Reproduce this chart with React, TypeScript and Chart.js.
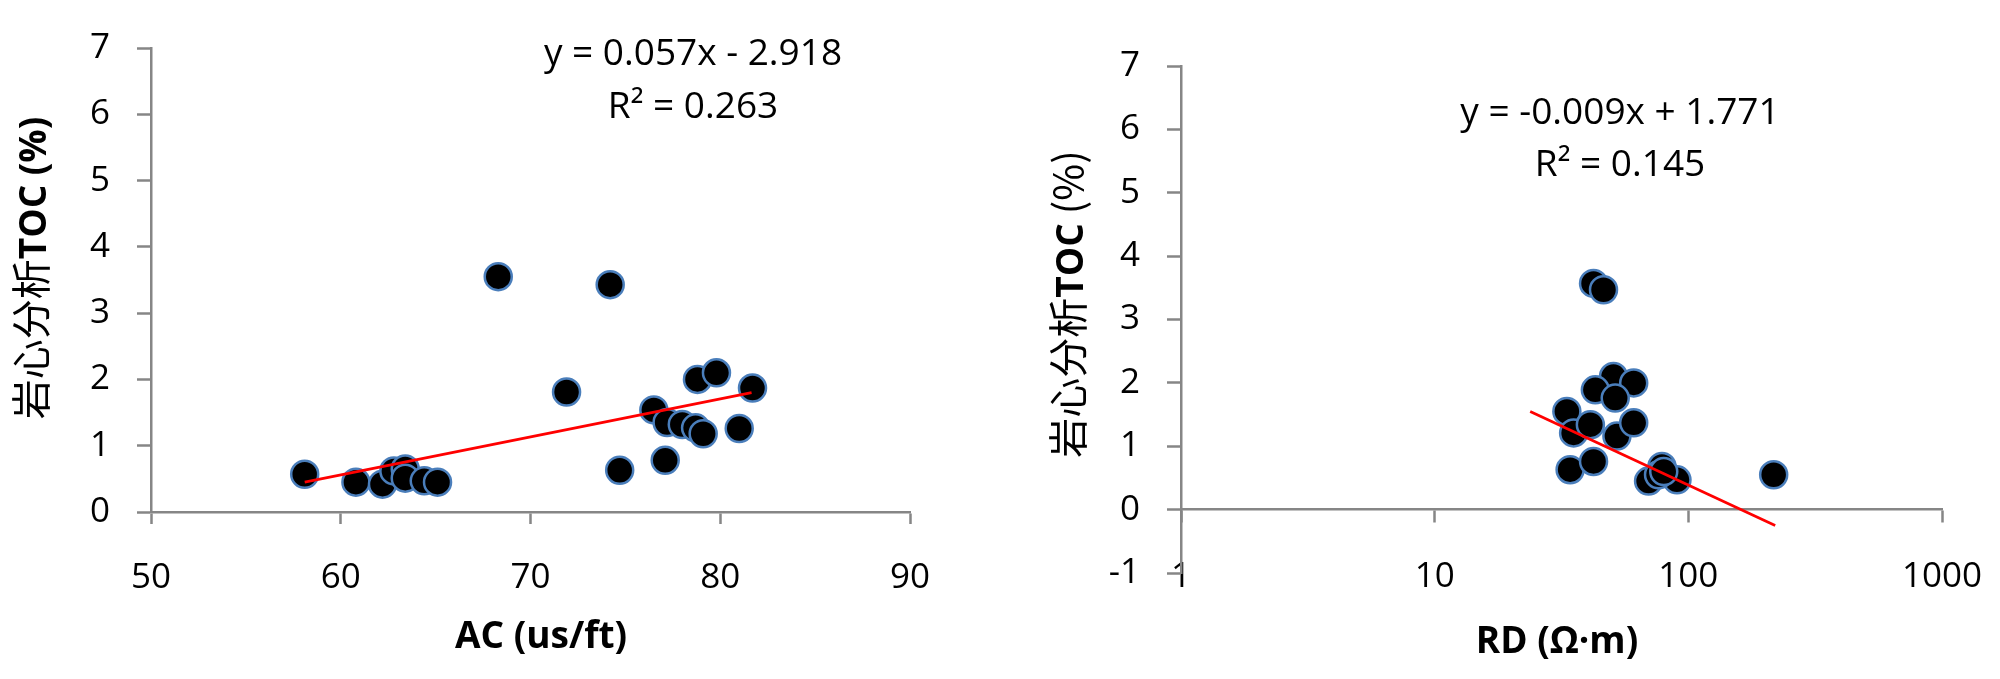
import React, { useEffect, useRef } from "react";
import { Chart, registerables } from "chart.js";

Chart.register(...registerables);

// ---------- data ----------
const acValues = [58.1, 60.8, 62.2, 62.8, 63.4, 63.4, 64.4, 65.1, 68.3, 74.2, 71.9, 74.7, 76.5, 77.2, 78.0, 78.7, 79.1, 78.8, 79.8, 81.7, 81.0, 77.1];
const acToc = [0.57, 0.45, 0.42, 0.62, 0.65, 0.51, 0.47, 0.45, 3.55, 3.43, 1.81, 0.63, 1.54, 1.35, 1.32, 1.27, 1.18, 2.0, 2.1, 1.87, 1.26, 0.78];
const acTrendX = [58.1, 81.65];
const acTrendY = [0.45, 1.8];
const acXTicks = [50, 60, 70, 80, 90];
const acYTicks = [0, 1, 2, 3, 4, 5, 6, 7];
const acEquation = ["y = 0.057x - 2.918", "R\u00B2 = 0.263"];

const rdValues = [42.3, 46.3, 50.7, 60.9, 43.0, 51.5, 33.2, 35.3, 41.1, 52.3, 60.9, 34.2, 42.3, 78.7, 69.7, 90.2, 76.3, 80.0, 217];
const rdToc = [3.57, 3.47, 2.1, 2.0, 1.89, 1.76, 1.55, 1.21, 1.34, 1.16, 1.37, 0.63, 0.76, 0.68, 0.45, 0.47, 0.55, 0.6, 0.55];
const rdTrendX = [23.8, 220];
const rdTrendY = [1.55, -0.25];
const rdXTicks = [1, 10, 100, 1000];
const rdYTicks = [-1, 0, 1, 2, 3, 4, 5, 6, 7];
const rdEquation = ["y = -0.009x + 1.771", "R\u00B2 = 0.145"];

const acXTitle = "AC (us/ft)";
const rdXTitle = "RD (\u03A9\u00B7m)";
const acYTitle = [
  { text: "岩心分析", kind: "cjk" },
  { text: "TOC (%)", kind: "bold" },
];
const rdYTitle = [
  { text: "岩心分析", kind: "cjk" },
  { text: "TOC", kind: "bold" },
  { text: " (%)", kind: "cjk" },
];

// ---------- styles ----------
const LATIN = "'Open Sans', 'Noto Sans CJK SC', sans-serif";
const CJK = "'Noto Sans CJK SC', 'Open Sans', sans-serif";
const GREY = "#868686";
const TICK_FONT = { family: LATIN, size: 35 };
const FONTS: Record<string, string> = {
  cjk: `40px ${CJK}`,
  bold: `bold 37px ${LATIN}`,
};

type Part = { text: string; kind: string };

function textPlugin(o: {
  eq: string[];
  eqX: number;
  eqY: number[];
  xTitle: string;
  xTitleX: number;
  xTitleY: number;
  yTitle: Part[];
  yTitleX: number;
  yTitleY: number;
}) {
  return {
    id: "annotText",
    afterDraw(chart: any) {
      const ctx = chart.ctx as CanvasRenderingContext2D;
      ctx.save();
      ctx.fillStyle = "#000";
      ctx.textAlign = "center";
      ctx.textBaseline = "middle";
      ctx.font = `37px ${LATIN}`;
      o.eq.forEach((t, i) => ctx.fillText(t, o.eqX, o.eqY[i]));
      ctx.font = `bold 37px ${LATIN}`;
      ctx.fillText(o.xTitle, o.xTitleX, o.xTitleY);
      ctx.translate(o.yTitleX, o.yTitleY);
      ctx.rotate(-Math.PI / 2);
      ctx.textAlign = "left";
      ctx.textBaseline = "alphabetic";
      const widths = o.yTitle.map((p) => {
        ctx.font = FONTS[p.kind];
        return ctx.measureText(p.text).width;
      });
      const total = widths.reduce((a, b) => a + b, 0);
      let x = -total / 2;
      o.yTitle.forEach((p, i) => {
        ctx.font = FONTS[p.kind];
        ctx.fillText(p.text, x, 13);
        x += widths[i];
      });
      ctx.restore();
    },
  };
}

const axisGrid = (len: number) => ({
  display: true,
  drawOnChartArea: false,
  drawTicks: true,
  tickLength: len,
  tickColor: GREY,
  tickWidth: 2.5,
  color: GREY,
});
const axisBorder = { display: true, color: GREY, width: 2.5 };

const scatterSet = (xs: number[], ys: number[]) => ({
  type: "scatter",
  data: xs.map((x, i) => ({ x, y: ys[i] })),
  backgroundColor: "#000000",
  borderColor: "#4a7ebb",
  borderWidth: 2.5,
  pointRadius: 13.5,
  pointHoverRadius: 13.5,
  order: 1,
});
const trendSet = (xs: number[], ys: number[]) => ({
  type: "line",
  data: xs.map((x, i) => ({ x, y: ys[i] })),
  borderColor: "#ff0000",
  borderWidth: 2.75,
  pointRadius: 0,
  fill: false,
  showLine: true,
  order: 0,
});

function leftConfig(): any {
  return {
    type: "scatter",
    data: { datasets: [trendSet(acTrendX, acTrendY), scatterSet(acValues, acToc)] },
    options: {
      animation: false,
      responsive: false,
      maintainAspectRatio: false,
      layout: { padding: { top: 26, right: 90, left: 0, bottom: 0 } },
      plugins: { legend: { display: false }, tooltip: { enabled: false }, title: { display: false } },
      scales: {
        x: {
          type: "linear",
          position: "bottom",
          min: 50,
          max: 90,
          afterBuildTicks: (s: any) => {
            s.ticks = acXTicks.map((v) => ({ value: v }));
          },
          afterFit: (s: any) => {
            s.height = 167;
          },
          grid: axisGrid(12),
          border: axisBorder,
          ticks: { font: TICK_FONT, color: "#000", padding: 33, maxRotation: 0, autoSkip: false },
        },
        y: {
          type: "linear",
          position: "left",
          min: 0,
          max: 7,
          afterBuildTicks: (s: any) => {
            s.ticks = acYTicks.map((v) => ({ value: v }));
          },
          afterFit: (s: any) => {
            s.width = 151;
          },
          grid: axisGrid(14),
          border: axisBorder,
          ticks: { font: TICK_FONT, color: "#000", padding: 27, autoSkip: false },
        },
      },
    },
    plugins: [
      textPlugin({
        eq: acEquation,
        eqX: 693,
        eqY: [54, 107],
        xTitle: acXTitle,
        xTitleX: 541,
        xTitleY: 637,
        yTitle: acYTitle,
        yTitleX: 33,
        yTitleY: 268,
      }),
    ],
  };
}

function rightConfig(): any {
  const logTicks = (s: any) => {
    s.ticks = rdXTicks.map((v) => ({ value: v }));
  };
  return {
    type: "scatter",
    data: { datasets: [trendSet(rdTrendX, rdTrendY), scatterSet(rdValues, rdToc)] },
    options: {
      animation: false,
      responsive: false,
      maintainAspectRatio: false,
      layout: { padding: { top: 66, right: 58, left: 0, bottom: 106 } },
      plugins: { legend: { display: false }, tooltip: { enabled: false }, title: { display: false } },
      scales: {
        x: {
          type: "logarithmic",
          position: { y: 0 },
          min: 1,
          max: 1000,
          afterBuildTicks: logTicks,
          grid: axisGrid(12),
          border: axisBorder,
          ticks: { display: false },
        },
        x2: {
          type: "logarithmic",
          position: { y: -1 },
          min: 1,
          max: 1000,
          afterBuildTicks: logTicks,
          grid: { display: false, drawTicks: false },
          border: { display: false },
          ticks: {
            font: TICK_FONT,
            color: "#000",
            padding: -17,
            maxRotation: 0,
            autoSkip: false,
            callback: (v: any) => String(v),
          },
        },
        y: {
          type: "linear",
          position: "left",
          min: -1,
          max: 7,
          afterBuildTicks: (s: any) => {
            s.ticks = rdYTicks.map((v) => ({ value: v }));
          },
          afterFit: (s: any) => {
            s.width = 181;
          },
          grid: axisGrid(14),
          border: axisBorder,
          ticks: { font: TICK_FONT, color: "#000", padding: 27, autoSkip: false },
        },
      },
    },
    plugins: [
      textPlugin({
        eq: rdEquation,
        eqX: 620,
        eqY: [113, 165],
        xTitle: rdXTitle,
        xTitleX: 557,
        xTitleY: 642,
        yTitle: rdYTitle,
        yTitleX: 70,
        yTitleY: 304,
      }),
    ],
  };
}

function ChartCanvas({ config, left }: { config: () => any; left: number }) {
  const ref = useRef<HTMLCanvasElement | null>(null);
  useEffect(() => {
    if (!ref.current) return;
    const chart = new Chart(ref.current, config());
    return () => chart.destroy();
  }, [config]);
  return (
    <canvas
      ref={ref}
      width={1000}
      height={679}
      style={{ position: "absolute", left, top: 0, width: 1000, height: 679, display: "block" }}
    />
  );
}

export default function App() {
  return (
    <div
      style={{
        position: "absolute",
        left: 0,
        top: 0,
        width: 2000,
        height: 679,
        background: "#ffffff",
        overflow: "hidden",
      }}
    >
      <ChartCanvas config={leftConfig} left={0} />
      <ChartCanvas config={rightConfig} left={1000} />
    </div>
  );
}
